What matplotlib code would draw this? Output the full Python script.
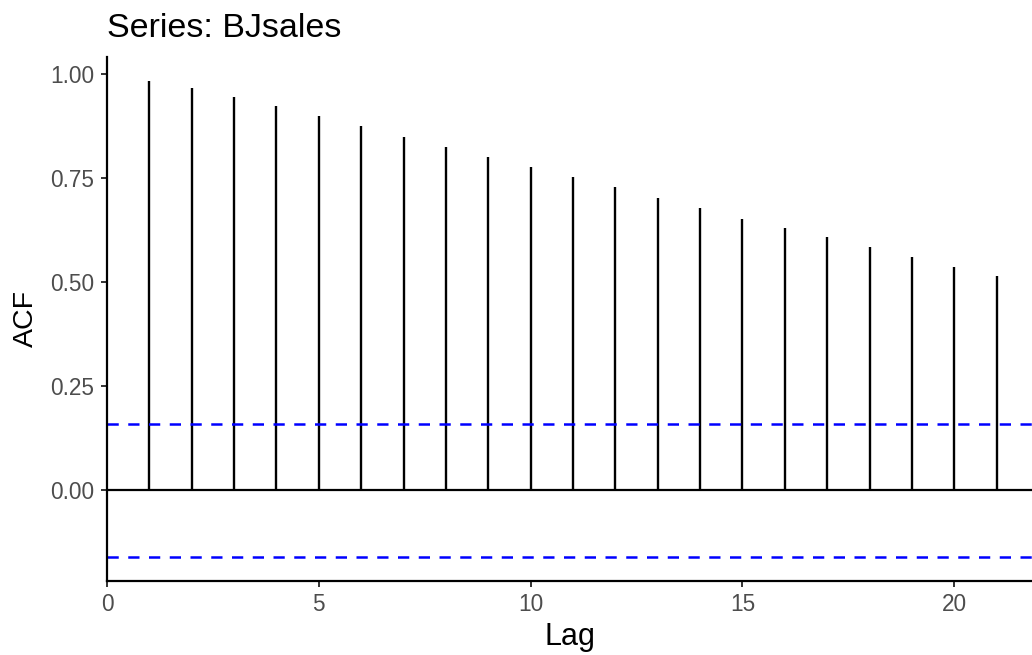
import numpy as np
import matplotlib
matplotlib.use("Agg")
import matplotlib.pyplot as plt

# autocorrelations of BJsales, lags 1..21
lags = np.arange(1, 22)
acf = [0.984, 0.966, 0.946, 0.923, 0.899, 0.875, 0.850, 0.826, 0.802, 0.778,
       0.752, 0.728, 0.702, 0.678, 0.653, 0.630, 0.608, 0.585, 0.561, 0.537,
       0.514]
n_obs = 150
ci = 1.96 / np.sqrt(n_obs)

x_ticks = [0, 5, 10, 15, 20]
y_ticks = [0.00, 0.25, 0.50, 0.75, 1.00]
y_labels = ["0.00", "0.25", "0.50", "0.75", "1.00"]

plt.rcParams['font.family'] = ['Liberation Sans', 'DejaVu Sans']

fig = plt.figure(figsize=(10.32, 6.55), dpi=100)
ax = fig.add_axes([107 / 1032, 1 - 580.7 / 655, 1 - 107 / 1032, (580.7 - 57) / 655])

ax.vlines(lags, 0, acf, color="black", lw=1.7)
ax.axhline(0, color="black", lw=1.6)
ax.axhline(ci, color="blue", lw=1.8, dashes=(4.5, 3.8))
ax.axhline(-ci, color="blue", lw=1.8, dashes=(4.5, 3.8))

ax.set_xlim(0, (1032 - 106.7) / 42.38)
lo = -ci - 0.05 * (max(acf) + ci)
hi = max(acf) + 0.05 * (max(acf) + ci)
ax.set_ylim(lo, hi)

ax.set_xticks(x_ticks)
ax.set_yticks(y_ticks)
ax.set_yticklabels(y_labels)
ax.tick_params(colors="#333333", labelcolor="#4D4D4D", labelsize=16.3,
               length=4, width=1.4, pad=5)

for side in ("top", "right"):
    ax.spines[side].set_visible(False)
for side in ("left", "bottom"):
    ax.spines[side].set_linewidth(1.6)

ax.set_xlabel("Lag", fontsize=22, labelpad=4)
ax.set_ylabel("ACF", fontsize=20.5, labelpad=8.5)
ax.set_title("Series: BJsales", fontsize=24.5, loc="left", pad=14.5)

fig.savefig("out.png", dpi=100)
